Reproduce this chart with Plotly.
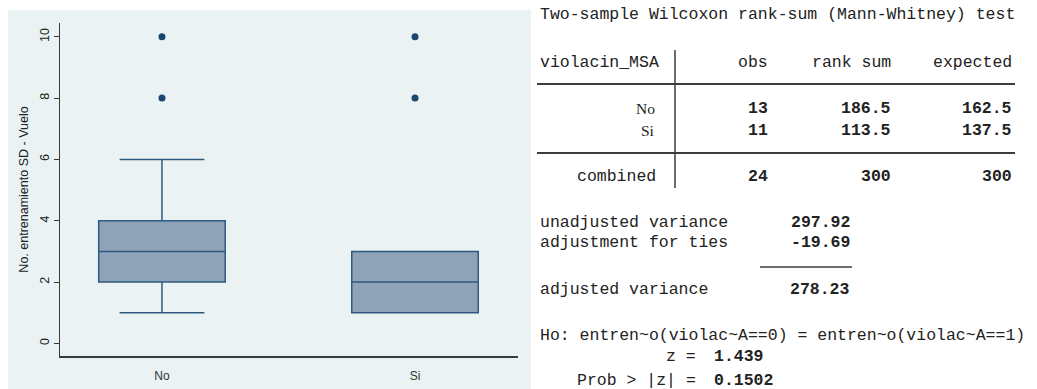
import plotly.graph_objects as go

# ---- Box plot data (No. entrenamiento SD - Vuelo by violacin_MSA) ----
groups = ["No", "Si"]
q1 = [2, 1]
median = [3, 2]
q3 = [4, 3]
lower_whisker = [1, 1]
upper_whisker = [6, 3]
outliers = {"No": [8, 10], "Si": [8, 10]}
y_ticks = [0, 2, 4, 6, 8, 10]

# ---- Wilcoxon rank-sum test output ----
obs = [13, 11]
rank_sum = [186.5, 113.5]
expected = [162.5, 137.5]
obs_total = 24
rank_total = 300
expected_total = 300
unadj_var = 297.92
ties_adj = -19.69
adj_var = 278.23
z_stat = 1.439
p_value = 0.1502

W, H = 1037, 389
NAVY = "#1a476f"
BOX_FILL = "#8ea3b7"
BOX_LINE = "#2f5a80"
PANEL_BG = "#eaf2f3"

def px(x):
    return x / W

def py(y):
    return 1 - y / H

fig = go.Figure()

fig.add_trace(go.Box(
    x=groups, q1=q1, median=median, q3=q3,
    lowerfence=lower_whisker, upperfence=upper_whisker,
    fillcolor=BOX_FILL, line=dict(color=BOX_LINE, width=1.5),
    width=0.5, whiskerwidth=0.67, boxpoints=False, showlegend=False,
    hoverinfo="skip",
))

out_x, out_y = [], []
for g in groups:
    out_x += [g] * len(outliers[g])
    out_y += outliers[g]
fig.add_trace(go.Scatter(
    x=out_x, y=out_y, mode="markers",
    marker=dict(color=NAVY, size=7), showlegend=False, hoverinfo="skip",
))

fig.update_layout(
    width=W, height=H,
    margin=dict(l=0, r=0, t=0, b=0),
    paper_bgcolor="white", plot_bgcolor="white",
    xaxis=dict(
        domain=[px(60), px(518)], range=[-0.403, 1.407],
        type="category", showgrid=False, zeroline=False,
        showline=True, linecolor="#3a3a3a", linewidth=1.5,
        ticks="", tickfont=dict(family="Liberation Sans", size=12, color="#333"),
        ticklabelstandoff=8,
    ),
    yaxis=dict(
        domain=[py(356), py(23)], range=[-0.41, 10.45],
        tickvals=y_ticks, tickangle=-90,
        showgrid=True, gridcolor=PANEL_BG, gridwidth=1, zeroline=False,
        showline=True, linecolor="#3a3a3a", linewidth=1.2,
        ticks="outside", ticklen=5, tickcolor="#3a3a3a",
        tickfont=dict(family="Liberation Sans", size=12.5, color="#222"),
        title=dict(text="No. entrenamiento SD - Vuelo",
                   font=dict(family="Liberation Sans", size=12.5, color="#222"),
                   standoff=6),
    ),
)

shapes = [
    # light panel behind the box plot
    dict(type="rect", xref="paper", yref="paper", x0=px(8), x1=px(531),
         y0=py(389), y1=py(10), fillcolor=PANEL_BG, line=dict(width=0),
         layer="below"),
]
rule = dict(color="#3c3c3c", width=2)
shapes += [
    dict(type="line", xref="paper", yref="paper", x0=px(537), x1=px(1015),
         y0=py(84), y1=py(84), line=rule),
    dict(type="line", xref="paper", yref="paper", x0=px(537), x1=px(1015),
         y0=py(153), y1=py(153), line=rule),
    dict(type="line", xref="paper", yref="paper", x0=px(675), x1=px(675),
         y0=py(50), y1=py(188), line=dict(color="#3c3c3c", width=1.5)),
    dict(type="line", xref="paper", yref="paper", x0=px(760), x1=px(852),
         y0=py(267), y1=py(267), line=dict(color="#3c3c3c", width=1.5)),
]
fig.update_layout(shapes=shapes)

MONO = "Liberation Mono"
FS = 16.5
TXT = "#222"
notes = []

def text(x, y, s, anchor="left", bold=False, family=MONO, size=FS):
    notes.append(dict(
        x=px(x), y=py(y), xref="paper", yref="paper",
        text=f"<b>{s}</b>" if bold else s, showarrow=False,
        xanchor=anchor, yanchor="middle",
        font=dict(family=family, size=size, color=TXT),
    ))

text(538, 14, "Two-sample Wilcoxon rank-sum (Mann-Whitney) test")
text(538, 62, "violacin_MSA")
text(770, 62, "obs", "right")
text(893, 62, "rank sum", "right")
text(1014, 62, "expected", "right")

for i, (g, yrow) in enumerate(zip(groups, [108, 130])):
    text(657, yrow, g, "right", family="Liberation Serif", size=15.5)
    text(770, yrow, f"{obs[i]}", "right", bold=True)
    text(893, yrow, f"{rank_sum[i]:.1f}", "right", bold=True)
    text(1014, yrow, f"{expected[i]:.1f}", "right", bold=True)

text(658, 176, "combined", "right")
text(770, 176, f"{obs_total}", "right", bold=True)
text(893, 176, f"{rank_total}", "right", bold=True)
text(1014, 176, f"{expected_total}", "right", bold=True)

text(538, 222, "unadjusted variance")
text(538, 243, "adjustment for ties")
text(538, 289, "adjusted variance")
text(852, 222, f"{unadj_var:.2f}", "right", bold=True)
text(852, 243, f"{ties_adj:.2f}", "right", bold=True)
text(852, 289, f"{adj_var:.2f}", "right", bold=True)

text(538, 335, "Ho: entren~o(violac~A==0) = entren~o(violac~A==1)")
text(698, 356, "z =", "right")
text(712, 356, f"{z_stat:.3f}", bold=True)
text(698, 380, "Prob > |z| =", "right")
text(712, 380, f"{p_value:.4f}", bold=True)

fig.update_layout(annotations=notes)
fig.write_html("out.html")
